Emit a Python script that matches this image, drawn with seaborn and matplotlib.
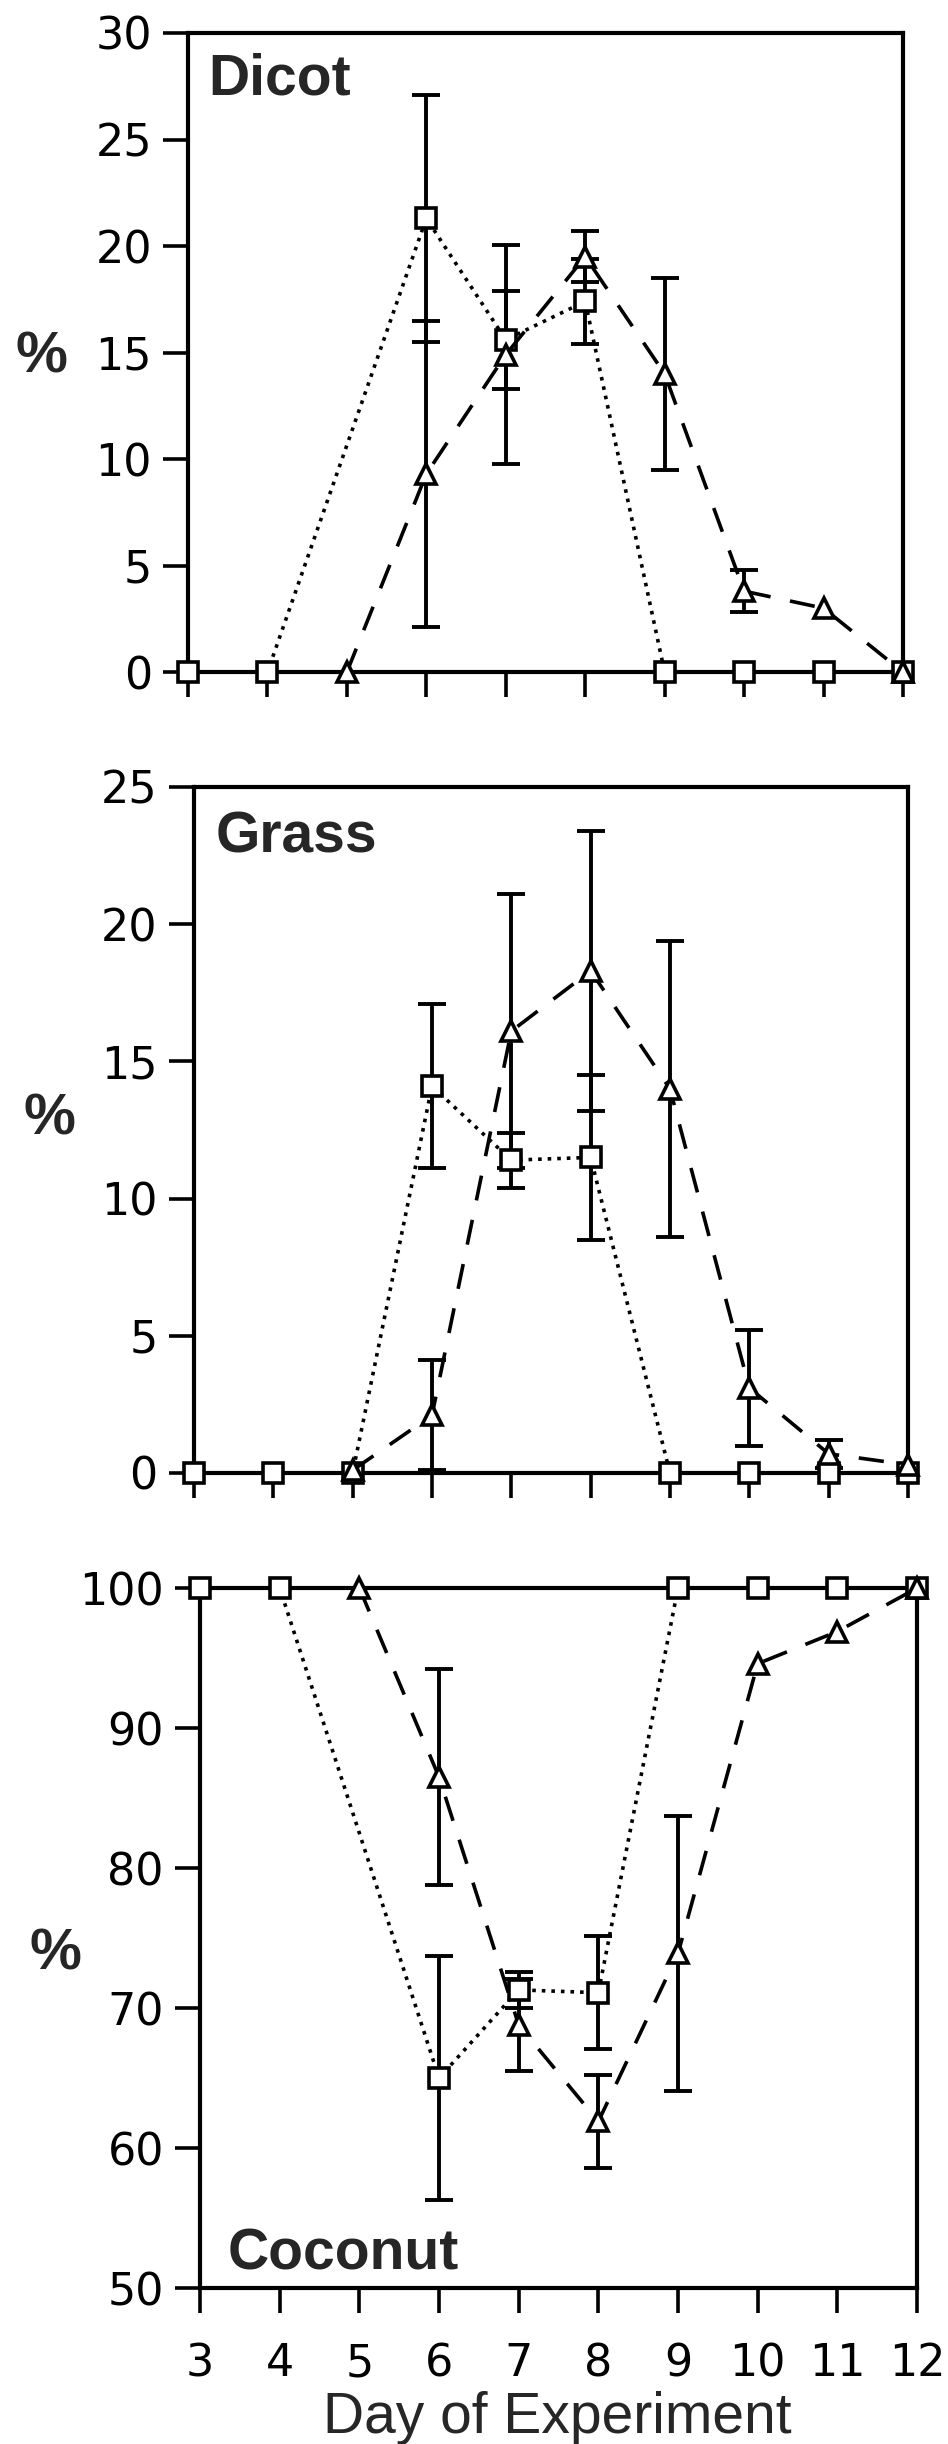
import numpy as np
import pandas as pd
import seaborn as sns
import matplotlib.pyplot as plt

# ==============================
# DATA
# ==============================

days = [3, 4, 5, 6, 7, 8, 9, 10, 11, 12]
nan = np.nan

# Dicot
dicot_sq_days = [3, 4, 6, 7, 8, 9, 10, 11, 12]
dicot_sq = [0, 0, 21.3, 15.6, 17.4, 0, 0, 0, 0]
dicot_sq_err = [nan, nan, 5.8, 2.3, 2.0, nan, nan, nan, nan]
dicot_tri_days = [5, 6, 7, 8, 9, 10, 11, 12]
dicot_tri = [0, 9.3, 14.9, 19.5, 14.0, 3.8, 3.0, 0]
dicot_tri_err = [nan, 7.2, 5.15, 1.2, 4.5, 1.0, nan, nan]

# Grass
grass_sq_days = [3, 4, 5, 6, 7, 8, 9, 10, 11, 12]
grass_sq = [0, 0, 0, 14.1, 11.4, 11.5, 0, 0, 0, 0]
grass_sq_err = [nan, nan, nan, 3.0, 1.0, 3.0, nan, nan, nan, nan]
grass_tri_days = [5, 6, 7, 8, 9, 10, 11, 12]
grass_tri = [0.1, 2.1, 16.1, 18.3, 14.0, 3.1, 0.7, 0.3]
grass_tri_err = [nan, 2.0, 5.0, 5.1, 5.4, 2.1, 0.5, nan]

# Coconut
coco_sq_days = [3, 4, 6, 7, 8, 9, 10, 11, 12]
coco_sq = [100, 100, 65.0, 71.3, 71.1, 100, 100, 100, 100]
coco_sq_err = [nan, nan, 8.7, 1.3, 4.05, nan, nan, nan, nan]
coco_tri_days = [5, 6, 7, 8, 9, 10, 11, 12]
coco_tri = [100, 86.5, 68.8, 61.9, 73.9, 94.6, 96.9, 100]
coco_tri_err = [nan, 7.7, 3.3, 3.35, 9.85, nan, nan, nan]

panel_names = ["Dicot", "Grass", "Coconut"]
y_ticks = [[0, 5, 10, 15, 20, 25, 30], [0, 5, 10, 15, 20, 25],
           [50, 60, 70, 80, 90, 100]]
x_label = "Day of Experiment"

# ==============================
# STYLE
# ==============================

sns.set_style("ticks")
plt.rcParams['font.family'] = ['DejaVu Sans']

fig = plt.figure(figsize=(9.48, 24.44), dpi=100)

positions = [
    [0.1983, 0.7250, 0.7542, 0.2615],
    [0.2046, 0.3973, 0.7532, 0.2807],
    [0.2110, 0.0638, 0.7563, 0.2864],
]
label_pos = [(0.029, 0.903), (0.031, 0.904), (0.038, 0.026)]
pct_pos = [(-0.205, 0.493), (-0.203, 0.515), (-0.202, 0.476)]

panels = [
    (dicot_sq_days, dicot_sq, dicot_sq_err, dicot_tri_days, dicot_tri, dicot_tri_err),
    (grass_sq_days, grass_sq, grass_sq_err, grass_tri_days, grass_tri, grass_tri_err),
    (coco_sq_days, coco_sq, coco_sq_err, coco_tri_days, coco_tri, coco_tri_err),
]

for i, (sd, sv, se, td, tv, te) in enumerate(panels):
    ax = fig.add_axes(positions[i])

    df = pd.concat([
        pd.DataFrame({'day': sd, 'value': sv, 'series': 'sq'}),
        pd.DataFrame({'day': td, 'value': tv, 'series': 'tri'}),
    ], ignore_index=True)

    # error bars (behind the markers)
    for d, v, e in [(sd, sv, se), (td, tv, te)]:
        d = np.array(d, float)
        v = np.array(v, float)
        e = np.array(e, float)
        m = ~np.isnan(e)
        ax.errorbar(d[m], v[m], yerr=e[m], fmt='none', ecolor='black',
                    elinewidth=2.8, capsize=10, capthick=2.8, zorder=2,
                    clip_on=False)

    sns.lineplot(data=df, x='day', y='value', style='series',
                 style_order=['sq', 'tri'],
                 markers={'sq': 's', 'tri': '^'},
                 dashes={'sq': (1, 1.65), 'tri': (7, 5.5)},
                 color='black', lw=2.6, markersize=15,
                 markerfacecolor='white', markeredgecolor='black',
                 markeredgewidth=2.6, legend=False, ax=ax,
                 zorder=3, clip_on=False)

    ax.set_xlim(3, 12)
    ax.set_ylim(y_ticks[i][0], y_ticks[i][-1])
    ax.set_xticks(days)
    ax.set_yticks(y_ticks[i])
    ax.set_xlabel("")
    ax.set_ylabel("")

    for sp in ax.spines.values():
        sp.set_visible(True)
        sp.set_linewidth(3.0)
        sp.set_color('black')

    ax.tick_params(axis='x', direction='out', length=18, width=2.6,
                   labelsize=32, pad=21, colors='black')
    ax.tick_params(axis='y', direction='out', length=18, width=2.6,
                   labelsize=32, pad=8, colors='black')
    if i < 2:
        ax.tick_params(axis='x', labelbottom=False)

    ax.text(label_pos[i][0], label_pos[i][1], panel_names[i],
            transform=ax.transAxes, ha='left', va='baseline',
            fontsize=41, fontweight='bold', family='Liberation Sans')
    ax.text(pct_pos[i][0], pct_pos[i][1], "%", transform=ax.transAxes,
            ha='center', va='center', fontsize=42, fontweight='bold',
            family='Liberation Sans')

fig.text(0.588, 0.0045, x_label, ha='center', va='baseline',
         fontsize=41, family='Liberation Sans')

fig.savefig("out.png", dpi=100)
